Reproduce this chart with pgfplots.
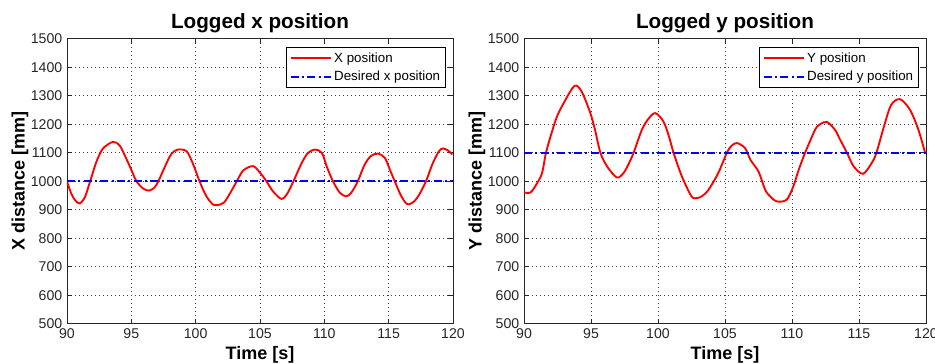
\documentclass[border=0pt]{standalone}
\usepackage{fontspec}
\setmainfont{Liberation Sans}
\usepackage{pgfplots}
\pgfplotsset{compat=1.18}
\begin{document}
\begin{tikzpicture}
\useasboundingbox (0,0) rectangle (701.25pt,273pt);
\pgfplotsset{
 mystyle/.style={
  scale only axis, height=213.75pt,
  xmin=90,xmax=120,ymin=500,ymax=1500,
  xtick={90,95,...,120}, ytick={500,600,...,1500},
  grid=major,
  major grid style={black!75, dash pattern=on 0.75pt off 2.25pt, line width=0.5pt},
  axis line style={black!85, line width=0.6pt},
  tick style={black!85, line width=0.6pt},
  major tick length=3.75pt,
  tick align=inside,
  /pgf/number format/assume math mode=true,
  /pgf/number format/1000 sep={},
  tick label style={font=\fontsize{10.6}{12}\selectfont, black!85},
  title style={font=\bfseries\fontsize{15.5}{18}\selectfont, at={(axis description cs:0.5,1.053)}, anchor=center, yshift=-6pt},
  xlabel style={font=\bfseries\fontsize{13.5}{16}\selectfont, at={(axis description cs:0.5,-0.109)}, anchor=center},
  ylabel style={font=\bfseries\fontsize{13.5}{16}\selectfont, anchor=center},
  legend style={font=\fontsize{10}{12}\selectfont, draw=black, line width=0.8pt, anchor=north east, legend cell align=left, inner sep=2pt, row sep=1pt},
  legend image code/.code={\draw[##1] (0pt,0pt) -- (30pt,0pt);},
 },
 xline/.style={draw=red, line width=1.4pt, smooth, tension=0.5},
}
\begin{axis}[mystyle, at={(50.25pt,30.2pt)}, anchor=south west, width=289.5pt,
  title={Logged x position}, xlabel={Time [s]}, ylabel={X distance [mm]},
  ylabel style={at={(axis description cs:-0.122,0.5)}},
  legend style={at={(0.982,0.972)}}]
\addplot[xline] coordinates {
(90.0,1000) (90.3,960) (90.6,935) (90.98,922) (91.4,945) (91.8,1000) (92.3,1070) (92.8,1115)
(93.58,1138) (94.1,1125) (94.6,1080) (95.0,1040) (95.4,1000) (95.9,975) (96.37,967) (96.8,978)
(97.1,1000) (97.6,1050) (98.1,1095) (98.6,1111) (99.3,1105) (99.8,1060) (100.3,1000) (100.8,950)
(101.3,920) (101.66,916) (102.2,925) (102.7,960) (103.2,1000) (103.7,1038) (104.46,1053) (105.0,1030)
(105.5,1000) (106.0,965) (106.66,938) (107.1,955) (107.6,1000) (108.2,1060) (108.7,1098) (109.25,1111)
(109.8,1100) (110.2,1050) (110.67,1000) (111.2,960) (111.7,947) (112.1,960) (112.6,1000) (113.1,1055)
(113.6,1088) (114.17,1097) (114.7,1082) (115.1,1040) (115.47,1000) (115.9,955) (116.3,925) (116.58,919)
(117.0,930) (117.4,955) (117.9,1000) (118.4,1060) (118.9,1105) (119.22,1115) (119.6,1108) (119.95,1094)
};
\addlegendentry{X position}
\addplot[blue, line width=1.5pt, dash pattern=on 6pt off 2.5pt on 1.5pt off 2.5pt] coordinates {(90,1000) (120,1000)};
\addlegendentry{Desired x position}
\end{axis}
\begin{axis}[mystyle, at={(393pt,30.2pt)}, anchor=south west, width=301.5pt,
  title={Logged y position}, xlabel={Time [s]}, ylabel={Y distance [mm]},
  ylabel style={at={(axis description cs:-0.117,0.5)}},
  legend style={at={(0.9826,0.972)}}]
\addplot[xline] coordinates {
(90.0,961) (90.5,961) (91.0,995) (91.35,1029) (91.64,1100) (92.0,1160) (92.46,1227) (93.1,1286)
(93.78,1335) (94.3,1315) (94.95,1239) (95.3,1180) (95.7,1100) (96.2,1052) (96.93,1013) (97.43,1029)
(97.8,1060) (98.18,1100) (98.8,1181) (99.3,1220) (99.8,1239) (100.4,1210) (100.8,1160) (101.16,1100)
(101.78,1017) (102.5,947) (102.9,941) (103.3,948) (103.77,970) (104.5,1029) (105.14,1100) (105.5,1125)
(105.9,1134) (106.5,1116) (106.9,1075) (107.5,1034) (108.0,970) (108.4,945) (108.87,929) (109.6,935)
(110.1,982) (110.5,1040) (110.98,1100) (111.73,1181) (112.1,1200) (112.6,1208) (113.2,1181) (113.6,1145)
(114.1,1100) (114.6,1052) (115.3,1026) (115.95,1064) (116.3,1100) (116.9,1198) (117.4,1268) (118.06,1288)
(118.8,1251) (119.43,1181) (119.93,1100)
};
\addlegendentry{Y position}
\addplot[blue, line width=1.5pt, dash pattern=on 6pt off 2.5pt on 1.5pt off 2.5pt] coordinates {(90,1100) (120,1100)};
\addlegendentry{Desired y position}
\end{axis}
\end{tikzpicture}
\end{document}
